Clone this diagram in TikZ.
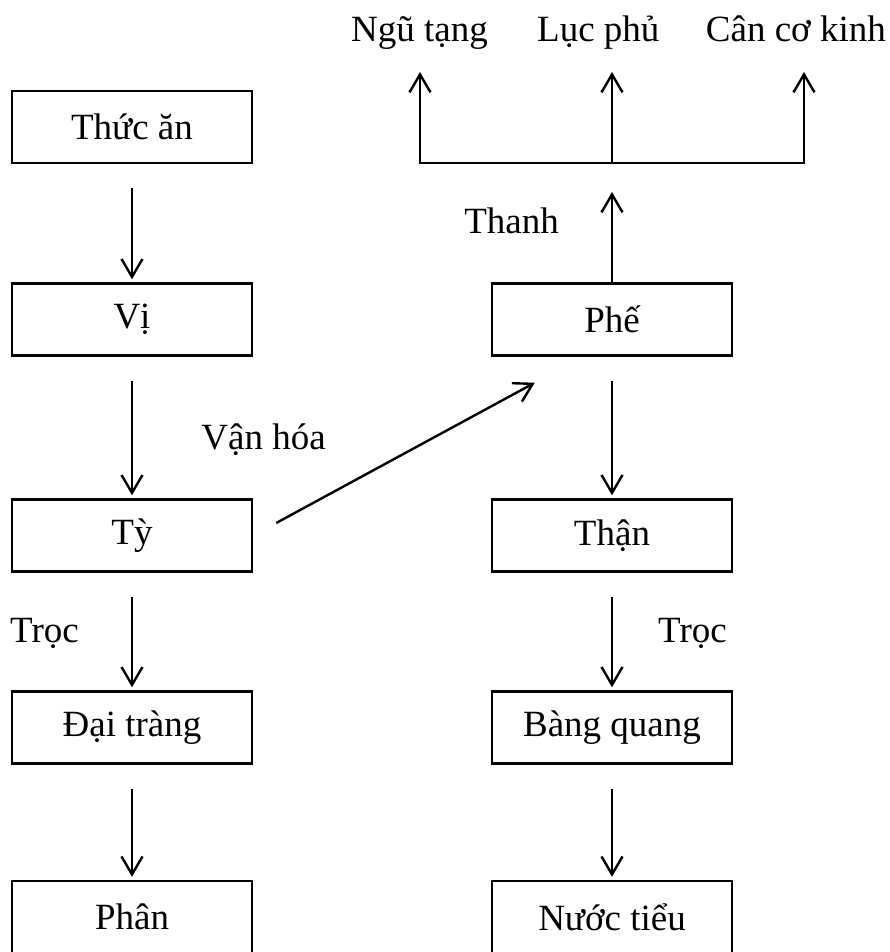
\documentclass[tikz,border=0pt]{standalone}
\usepackage{fontspec}
\setmainfont{Liberation Serif}
\usetikzlibrary{arrows.meta,calc}
\begin{document}
\begin{tikzpicture}[x=1pt,y=-1pt,
  every node/.style={font=\fontsize{37}{44}\selectfont, inner sep=0pt},
  organ/.style={draw, line width=2.4pt, minimum width=240pt, minimum height=72pt},
  lbl/.style={},
  arr/.style={line width=2.4pt, line join=miter, -{Straight Barb[length=18pt,width=21pt,line width=2.4pt]}},
  plain/.style={line width=2.4pt}]
\useasboundingbox (0,0) rectangle (889,952);
% left column
\node[organ] (thuc) at (132,127) {Thức ăn};
\node[organ] (vi) at (132,319.5) {Vị};
\node[organ] (ty) at (132,535.5) {Tỳ};
\node[organ] (dai) at (132,727.5) {Đại tràng};
\node[organ] (phan) at (132,917) {Phân};
% right column
\node[organ] (phe) at (612,319.5) {Phế};
\node[organ] (than) at (612,535.5) {Thận};
\node[organ] (bang) at (612,727.5) {Bàng quang};
\node[organ] (nuoc) at (612,917) {Nước tiểu};
% top labels
\node[lbl, anchor=base west] (ngu) at (351,42) {Ngũ tạng};
\node[lbl, anchor=base west] (luc) at (537,42) {Lục phủ};
\node[lbl, anchor=base east] (can) at (886,42) {Cân cơ kinh};
% other labels
\node[lbl, anchor=base east] (thanh) at (559,233) {Thanh};
\node[lbl, anchor=base east] (vanhoa) at (326,449) {Vận hóa};
\node[lbl, anchor=base west] (trocl) at (10,642) {Trọc};
\node[lbl, anchor=base west] (trocr) at (658,642) {Trọc};
% vertical arrows
\foreach \a/\b in {thuc/vi, vi/ty, ty/dai, dai/phan, phe/than, than/bang, bang/nuoc}{
  \draw[arr] ($(\a.south)+(0,24)$) -- ($(\b.north)+(0,-3)$);
}
% Ty -> Phe
\draw[arr] ($(ty.east)+(23,-12.5)$) -- ($(phe.south west)+(44,26)$);
% Phe up
\coordinate (hl) at (420,163);
\coordinate (hm) at (612,163);
\coordinate (hr) at (804,163);
\coordinate (tl) at (420,72);
\coordinate (tm) at (612,72);
\coordinate (tr) at (804,72);
\coordinate (pt) at (612,192);
\draw[arr] (phe.north) -- (pt);
\draw[plain, line cap=rect] (hl) -- (hr);
\draw[arr] (hl) -- (tl);
\draw[arr] (hm) -- (tm);
\draw[arr] (hr) -- (tr);
\end{tikzpicture}
\end{document}
